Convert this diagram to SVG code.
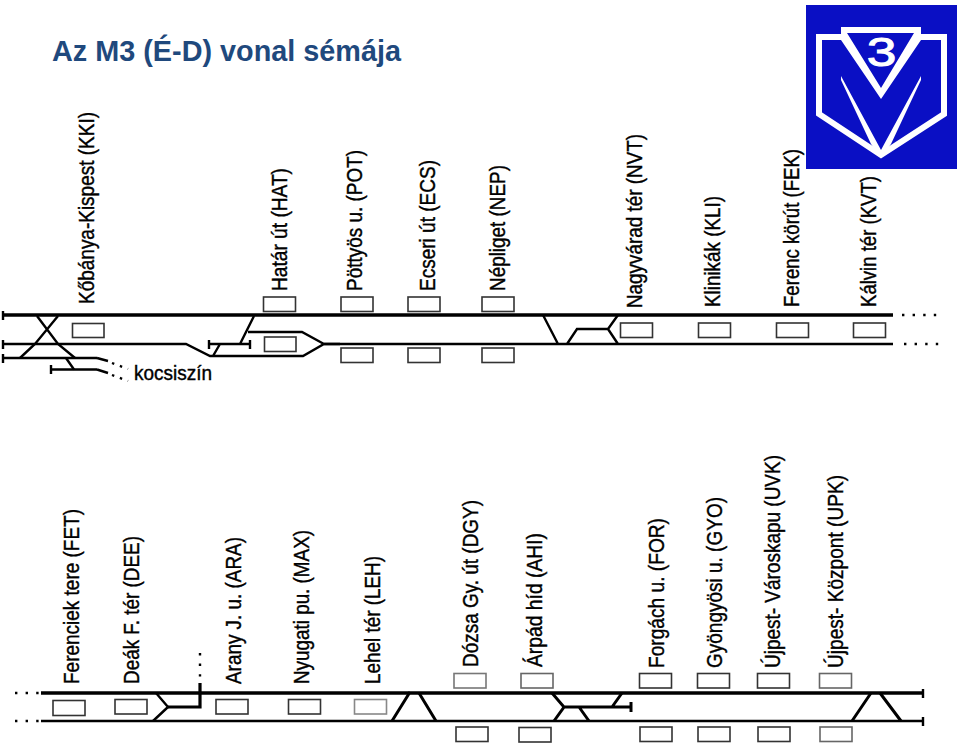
<svg xmlns="http://www.w3.org/2000/svg" width="960" height="743" viewBox="0 0 960 743">
<style>
text{font-family:"Liberation Sans",Arial,sans-serif;fill:#000}
.l{font-size:21.5px;stroke:#000;stroke-width:.4px}
.b{fill:#fff;stroke:#333;stroke-width:1.6}
.t{fill:none;stroke:#000;stroke-width:2.4;stroke-linejoin:miter}
.m{stroke-width:3.6}
.d{fill:none;stroke:#000;stroke-width:2.4;stroke-dasharray:2.4 8.2}
.k{fill:none;stroke:#000;stroke-width:2.4;stroke-dasharray:2.4 6}
</style>
<rect width="960" height="743" fill="#fff"/>
<text id="title" x="52" y="61" font-size="29" font-weight="bold" style="fill:#1f497d" textLength="349" lengthAdjust="spacingAndGlyphs">Az M3 (É-D) vonal sémája</text>
<g id="logo">
<rect x="806" y="5" width="151" height="164" fill="#0a0fc4"/>
<path d="M842,37H819V114L881,155L944,114V37H920" fill="none" stroke="#fff" stroke-width="6"/>
<path fill="#fff" fill-rule="evenodd" d="M841,27H921V40L881,99L841,40ZM847,33L881,88L914,33Z"/>
<path fill="#fff" d="M841,76L881,150V158L871,144L841,80ZM921,76L881,150V158L891,144L921,80Z"/>
<text transform="translate(881.5,65.500) scale(1.3,1)" text-anchor="middle" font-size="41" style="fill:#fff;stroke:#fff;stroke-width:1">3</text>
</g>
<g id="connectors">
<path class="t m" d="M2,315H893"/>
<path class="t" d="M3,311V320M3,340V349M3,354V363M51,365V374M209,340V349M250,340V349"/>
<path class="t" d="M2,344H186L210,356H303L324,344H340M324,344L302,332H248M254,316L240,344M209,344H250M220,344L213,356M3,358H97M51,369.500H97"/>
<path class="t" d="M37,316L58,344L75,358M58,316L35,344L20,358M66,358L74,369.500"/>
<path class="t" d="M324,344H893M543,315L558,344M567,344L577,329H608L618,315M608,329L618,344"/>
<path class="t" d="M97,358L108,361M97,369.500L108,373"/>
<path class="k" d="M112,363L128,369M112,375L128,381"/>
<path class="d" d="M902,315H940M904,344H940"/>
<path class="t m" d="M41,693H922"/>
<path class="t" d="M41,721H922M923,689V698M923,717V726"/>
<path class="d" d="M15,693H40M15,721H40"/>
<path class="t" d="M156,693L168,707M168,707L153,721"/>
<path class="t" style="stroke-width:3.2" d="M168,707H200V683"/>
<path class="d" d="M200,653V680"/>
<path class="t" style="stroke-width:3" d="M392,721L410,692M419,693L436,721M552,693L564,707L554,721M564,707H631M579,707L589,721M622,693L612,707M852,721L871,693M880,693L901,721"/>
<path class="t" style="stroke-width:3" d="M631,702V712"/>
</g>
<g id="KKI"><rect class="b" x="72.500" y="323.500" width="31.500" height="14"/><text class="l" transform="translate(94,304) rotate(-90)" textLength="192" lengthAdjust="spacingAndGlyphs">Kőbánya-Kispest (KKI)</text></g>
<g id="HAT"><rect class="b" x="263.500" y="297" width="32" height="14.500"/><rect class="b" x="264.500" y="337" width="31.500" height="14.500"/><text class="l" transform="translate(287,291) rotate(-90)" textLength="123" lengthAdjust="spacingAndGlyphs">Határ út (HAT)</text></g>
<g id="POT"><rect class="b" x="341" y="297" width="32" height="14.500"/><rect class="b" x="341" y="348" width="32" height="14.500"/><text class="l" transform="translate(362,291) rotate(-90)" textLength="141" lengthAdjust="spacingAndGlyphs">Pöttyös u. (POT)</text></g>
<g id="ECS"><rect class="b" x="408" y="297" width="32" height="14.500"/><rect class="b" x="408" y="348" width="32" height="14.500"/><text class="l" transform="translate(435,291) rotate(-90)" textLength="131" lengthAdjust="spacingAndGlyphs">Ecseri út (ECS)</text></g>
<g id="NEP"><rect class="b" x="482" y="297" width="32" height="14.500"/><rect class="b" x="482" y="348" width="32" height="14.500"/><text class="l" transform="translate(505,291) rotate(-90)" textLength="126" lengthAdjust="spacingAndGlyphs">Népliget (NEP)</text></g>
<g id="NVT"><rect class="b" x="620.500" y="323" width="32" height="14.500"/><text class="l" transform="translate(642,308) rotate(-90)" textLength="174" lengthAdjust="spacingAndGlyphs">Nagyvárad tér (NVT)</text></g>
<g id="KLI"><rect class="b" x="698.500" y="323" width="32" height="14.500"/><text class="l" transform="translate(720,307) rotate(-90)" textLength="111" lengthAdjust="spacingAndGlyphs">Klinikák (KLI)</text></g>
<g id="FEK"><rect class="b" x="776.500" y="323" width="32" height="14.500"/><text class="l" transform="translate(799,307) rotate(-90)" textLength="158" lengthAdjust="spacingAndGlyphs">Ferenc körút (FEK)</text></g>
<g id="KVT"><rect class="b" x="853.500" y="323" width="32" height="14.500"/><text class="l" transform="translate(876,307) rotate(-90)" textLength="131" lengthAdjust="spacingAndGlyphs">Kálvin tér (KVT)</text></g>
<g id="kocsiszin"><text x="134" y="380" font-size="20" textLength="78" lengthAdjust="spacingAndGlyphs" style="stroke:#000;stroke-width:.4px">kocsiszín</text></g>
<g id="FET"><rect class="b" x="53" y="700.500" width="32" height="15"/><text class="l" transform="translate(79,684) rotate(-90)" textLength="175" lengthAdjust="spacingAndGlyphs">Ferenciek tere (FET)</text></g>
<g id="DEE"><rect class="b" x="115" y="699.500" width="32" height="14.500"/><text class="l" transform="translate(139,684) rotate(-90)" textLength="148" lengthAdjust="spacingAndGlyphs">Deák F. tér (DEE)</text></g>
<g id="ARA"><rect class="b" x="216" y="699.500" width="32" height="14.500"/><text class="l" transform="translate(241,684) rotate(-90)" textLength="147" lengthAdjust="spacingAndGlyphs">Arany J. u. (ARA)</text></g>
<g id="MAX"><rect class="b" x="288.500" y="699.500" width="32" height="14.500"/><text class="l" transform="translate(309,684) rotate(-90)" textLength="154" lengthAdjust="spacingAndGlyphs">Nyugati pu. (MAX)</text></g>
<g id="LEH"><rect class="b" x="354.500" y="699.500" width="32" height="14.500" style="stroke:#888"/><text class="l" transform="translate(380,684) rotate(-90)" textLength="128" lengthAdjust="spacingAndGlyphs">Lehel tér (LEH)</text></g>
<g id="DGY"><rect class="b" x="454" y="673.500" width="32" height="14.500" style="stroke:#777"/><rect class="b" x="456" y="727" width="32" height="14.500"/><text class="l" transform="translate(478,667) rotate(-90)" textLength="167" lengthAdjust="spacingAndGlyphs">Dózsa Gy. út (DGY)</text></g>
<g id="AHI"><rect class="b" x="521" y="673.500" width="32" height="14.500" style="stroke:#666"/><rect class="b" x="519" y="727.500" width="32" height="14.500"/><text class="l" transform="translate(542,667) rotate(-90)" textLength="134" lengthAdjust="spacingAndGlyphs">Árpád híd (AHI)</text></g>
<g id="FOR"><rect class="b" x="639.500" y="673.500" width="32" height="14.500"/><rect class="b" x="640" y="727" width="32" height="14.500"/><text class="l" transform="translate(664,668) rotate(-90)" textLength="150" lengthAdjust="spacingAndGlyphs">Forgách u. (FOR)</text></g>
<g id="GYO"><rect class="b" x="697.500" y="673.500" width="32" height="14.500"/><rect class="b" x="698" y="727" width="32" height="14.500"/><text class="l" transform="translate(722,668) rotate(-90)" textLength="171" lengthAdjust="spacingAndGlyphs">Gyöngyösi u. (GYO)</text></g>
<g id="UVK"><rect class="b" x="757.500" y="673.500" width="32" height="14.500"/><rect class="b" x="758" y="727" width="32" height="14.500"/><text class="l" transform="translate(780,668) rotate(-90)" textLength="213" lengthAdjust="spacingAndGlyphs">Újpest- Városkapu (UVK)</text></g>
<g id="UPK"><rect class="b" x="819.500" y="673.500" width="32" height="14.500" style="stroke:#666"/><rect class="b" x="820" y="727" width="32" height="14.500" style="stroke:#666"/><text class="l" transform="translate(843,668) rotate(-90)" textLength="193" lengthAdjust="spacingAndGlyphs">Újpest- Központ (UPK)</text></g>
</svg>
